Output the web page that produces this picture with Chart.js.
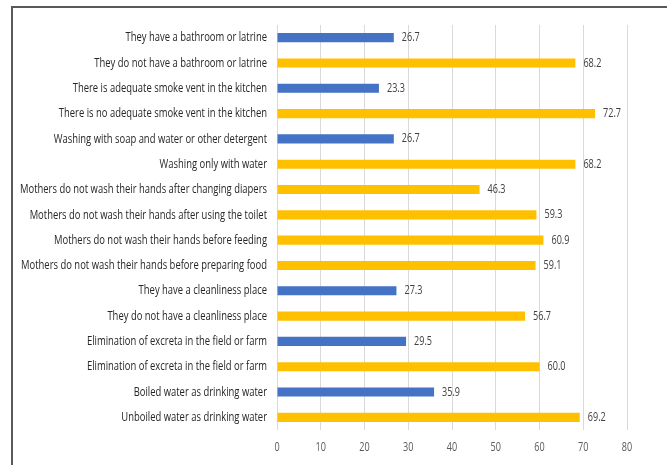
<!DOCTYPE html>
<html>
<head>
<meta charset="utf-8">
<script src="https://cdn.jsdelivr.net/npm/chart.js@4.4.1/dist/chart.umd.min.js"></script>
<style>
  html, body { margin: 0; padding: 0; background: #fff; }
  #wrap { position: relative; width: 667px; height: 465px; }
  #frame { position: absolute; left: 11px; top: 6px; right: 0; bottom: 0;
           border-left: 2px solid #595959; border-top: 2px solid #595959; }
  canvas { position: absolute; left: 0; top: 0; }
</style>
</head>
<body>
<div id="wrap">
  <div id="frame"></div>
  <canvas id="myChart" width="667" height="465"></canvas>
</div>
<script>
const labels = [
  'They have a bathroom or latrine',
  'They do not have a bathroom or latrine',
  'There is adequate smoke vent in the kitchen',
  'There is no adequate smoke vent in the kitchen',
  'Washing with soap and water or other detergent',
  'Washing only with water',
  'Mothers do not wash their hands after changing diapers',
  'Mothers do not wash their hands after using the toilet',
  'Mothers do not wash their hands before feeding',
  'Mothers do not wash their hands before preparing food',
  'They have a cleanliness place',
  'They do not have a cleanliness place',
  'Elimination of excreta in the field or farm',
  'Elimination of excreta in the field or farm',
  'Boiled water as drinking water',
  'Unboiled water as drinking water'
];
const values = [26.7, 68.2, 23.3, 72.7, 26.7, 68.2, 46.3, 59.3, 60.9, 59.1, 27.3, 56.7, 29.5, 60.0, 35.9, 69.2];
// 'b' = favourable (blue), 'y' = unfavourable (gold)
const groups = ['b','y','b','y','b','y','y','y','y','y','b','y','b','y','b','y'];
const xTicks = [0, 10, 20, 30, 40, 50, 60, 70, 80];

const colorOf = { b: '#4472C4', y: '#FFC000' };
const font = "'Open Sans', sans-serif";

// narrow (Calibri-like) text: squeeze horizontally
function narrowText(ctx, text, x, y, align, k) {
  ctx.save();
  ctx.translate(x, y);
  ctx.scale(k, 1);
  ctx.textAlign = align;
  ctx.fillText(text, 0, 0);
  ctx.restore();
}

const textPlugin = {
  id: 'textPlugin',
  afterDraw(chart) {
    const ctx = chart.ctx;
    const yScale = chart.scales.y;
    const xScale = chart.scales.x;
    ctx.save();
    ctx.textBaseline = 'middle';
    ctx.font = '13px ' + font;
    // fit longest category label into the reference width
    const widest = Math.max(...labels.map(l => ctx.measureText(l).width));
    const k = 247 / widest;

    ctx.fillStyle = '#262626';
    labels.forEach((l, i) => {
      narrowText(ctx, l, yScale.right - 10, yScale.getPixelForTick(i), 'right', k);
    });

    ctx.font = '12.5px ' + font;
    ctx.fillStyle = '#404040';
    const meta = chart.getDatasetMeta(0);
    meta.data.forEach((bar, i) => {
      narrowText(ctx, values[i].toFixed(1), bar.x + 8, bar.y, 'left', k);
    });

    ctx.fillStyle = '#595959';
    xTicks.forEach(v => {
      narrowText(ctx, String(v), xScale.getPixelForValue(v), xScale.top + 17, 'center', k);
    });
    ctx.restore();
  }
};

new Chart(document.getElementById('myChart'), {
  type: 'bar',
  data: {
    labels: labels,
    datasets: [{
      data: values,
      backgroundColor: groups.map(g => colorOf[g]),
      borderWidth: 0,
      barPercentage: 0.36,
      categoryPercentage: 1
    }]
  },
  options: {
    indexAxis: 'y',
    responsive: false,
    animation: false,
    layout: { padding: { top: 25, right: 40, bottom: 0, left: 0 } },
    plugins: {
      legend: { display: false },
      tooltip: { enabled: false }
    },
    scales: {
      x: {
        min: 0,
        max: 80,
        afterBuildTicks(scale) { scale.ticks = xTicks.map(v => ({ value: v })); },
        afterFit(scale) { scale.height = 35; },
        grid: { color: '#D9D9D9', drawTicks: false },
        border: { display: false },
        ticks: { display: false }
      },
      y: {
        afterFit(scale) { scale.width = 277; },
        grid: { display: false },
        border: { display: false },
        ticks: { display: false, autoSkip: false }
      }
    }
  },
  plugins: [textPlugin]
});
</script>
</body>
</html>
